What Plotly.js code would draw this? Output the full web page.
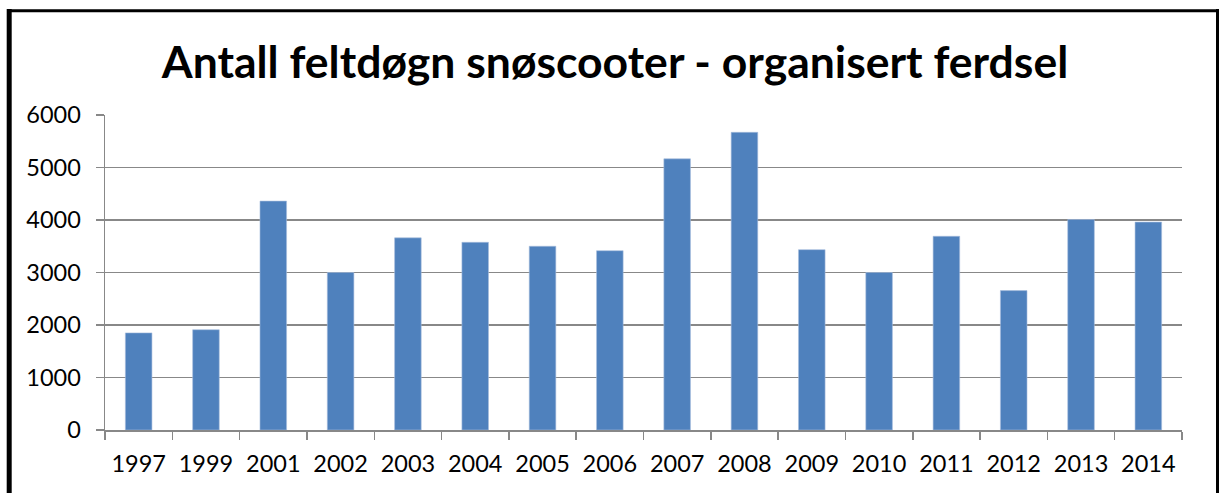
<!DOCTYPE html>
<html>
<head>
<meta charset="utf-8">
<script src="https://cdn.plot.ly/plotly-3.0.1.min.js"></script>
<style>
  html, body { margin: 0; padding: 0; background: #ffffff; }
  #chart { width: 1219px; height: 493px; }
</style>
</head>
<body>
<div id="chart"></div>
<script>
const titleText = 'Antall feltdøgn snøscooter - organisert ferdsel';
const years = ['1997','1999','2001','2002','2003','2004','2005','2006','2007','2008','2009','2010','2011','2012','2013','2014'];
const feltdogn = [1850,1910,4360,3000,3660,3575,3500,3415,5165,5670,3435,3000,3690,2655,4010,3960];
const yTicks = [0,1000,2000,3000,4000,5000,6000];

const W = 1219, H = 493;
const mL = 105, mR = 37, mT = 115, mB = 63;
const pw = W - mL - mR, ph = H - mT - mB;
const px = x => (x - mL) / pw;
const py = y => (H - mB - y) / ph;

const trace = {
  type: 'bar',
  x: years,
  y: feltdogn,
  marker: { color: '#4F81BD', line: { color: '#A7BEDD', width: 0.6 } },
  hoverinfo: 'x+y'
};

const axisGray = '#888888';
const tickFont = { family: 'Lato, Liberation Sans, Arial, sans-serif', size: 23.5, color: '#000000' };

const layout = {
  width: W, height: H,
  margin: { l: mL, r: mR, t: mT, b: mB, pad: 0 },
  paper_bgcolor: '#ffffff',
  plot_bgcolor: '#ffffff',
  showlegend: false,
  bargap: 0.605,
  title: {
    text: '<b>' + titleText + '</b>',
    font: { family: 'Lato, Liberation Sans, Arial, sans-serif', size: 44.5, color: '#000000' },
    xref: 'container', x: 615 / W, xanchor: 'center',
    yref: 'container', y: 1 - 62 / H, yanchor: 'middle'
  },
  xaxis: {
    type: 'category',
    showgrid: false,
    showline: true, linecolor: axisGray, linewidth: 1.5,
    ticks: 'outside', tickson: 'boundaries', ticklen: 8, tickwidth: 1.5, tickcolor: axisGray,
    tickfont: tickFont,
    ticklabelstandoff: 12,
    zeroline: false,
    fixedrange: true
  },
  yaxis: {
    range: [0, 6000],
    tickvals: yTicks,
    ticktext: yTicks.map(String),
    showgrid: true, gridcolor: axisGray, gridwidth: 1.5,
    showline: true, linecolor: axisGray, linewidth: 1.5,
    ticks: 'outside', ticklen: 8, tickwidth: 1.5, tickcolor: axisGray,
    tickfont: tickFont,
    ticklabelstandoff: 10,
    zeroline: false,
    fixedrange: true
  },
  shapes: [
    { type: 'line', xref: 'paper', yref: 'paper', x0: px(9.2), x1: px(9.2), y0: py(H + 5), y1: py(9), line: { color: '#000000', width: 5 } },
    { type: 'line', xref: 'paper', yref: 'paper', x0: px(7), x1: px(1219), y0: py(10.7), y1: py(10.7), line: { color: '#000000', width: 3 } },
    { type: 'line', xref: 'paper', yref: 'paper', x0: px(1217.5), x1: px(1217.5), y0: py(H + 5), y1: py(9), line: { color: '#000000', width: 3 } }
  ]
};

Plotly.newPlot('chart', [trace], layout, { displayModeBar: false, staticPlot: true });
</script>
</body>
</html>
